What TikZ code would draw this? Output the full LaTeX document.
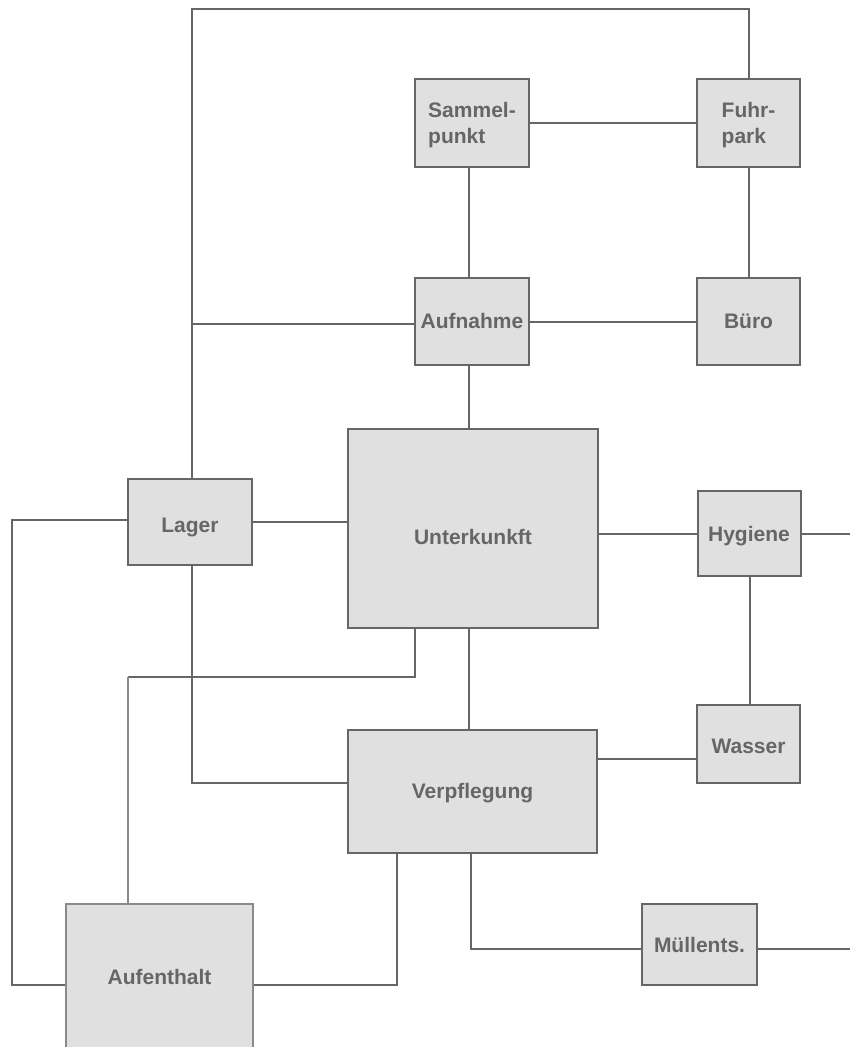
\documentclass[tikz,border=0pt]{standalone}
\usepackage{fontspec}
\setmainfont{Liberation Sans}
\definecolor{boxfill}{HTML}{E0E0E0}
\definecolor{edge}{HTML}{666666}
\definecolor{lightedge}{HTML}{8A8A8A}
\definecolor{txt}{HTML}{666666}
\newcommand{\twolines}[2]{\begin{tabular}[b]{@{}l@{}}#1\\#2\end{tabular}}
\begin{document}
\begin{tikzpicture}[x=1pt,y=-1pt,
  box/.style={draw=edge,line width=2pt,fill=boxfill,text=txt,inner sep=0pt,
    font=\fontsize{21}{26}\selectfont\bfseries,text depth=0pt},
  lightbox/.style={box,draw=lightedge,line width=1.3pt},
  wire/.style={draw=edge,line width=2pt},
  lightwire/.style={draw=lightedge,line width=1.3pt}]
\useasboundingbox (0,0) rectangle (850,1047);
\clip (0,0) rectangle (850,1047);
% nodes
\node[box,minimum width=114pt,minimum height=88pt,text height=41pt] (samm) at (472,122.5) {\twolines{Sammel-}{punkt}};
\node[box,minimum width=103pt,minimum height=88pt,text height=41pt] (fuhr) at (748.5,122.5) {\twolines{Fuhr-}{park}};
\node[box,minimum width=114pt,minimum height=87pt,text height=13pt] (aufn) at (472,321.5) {Aufnahme};
\node[box,minimum width=103pt,minimum height=87pt,text height=13pt] (buro) at (748.5,321.5) {Büro};
\node[box,minimum width=250pt,minimum height=199pt,text height=31pt] (unter) at (473,528.5) {Unterkunkft};
\node[box,minimum width=124pt,minimum height=86pt,text height=20pt] (lager) at (190,522) {Lager};
\node[box,minimum width=103pt,minimum height=85pt,text height=15pt] (hyg) at (749,533.5) {Hygiene};
\node[box,minimum width=103pt,minimum height=78pt,text height=18pt] (wass) at (748.5,744) {Wasser};
\node[box,minimum width=249pt,minimum height=123pt,text height=13pt] (verp) at (472.5,791.5) {Verpflegung};
\node[box,minimum width=115pt,minimum height=81pt,text height=15pt] (mull) at (699.5,944.5) {Müllents.};
\node[lightbox,minimum width=187pt,minimum height=162pt,text height=0pt,text depth=2pt] (aufe) at (159.5,985) {Aufenthalt};
% bend points
\coordinate (cx) at (469,0);
\coordinate (rx) at (749.5,0);
\coordinate (t1) at (192,9);
\coordinate (t2) at (749,9);
\coordinate (l1) at (192,324);
\coordinate (ll) at (12,520);
\coordinate (ll2) at (12,985);
\coordinate (u1) at (415,628);
\coordinate (u2) at (415,677);
\coordinate (u3) at (128,677);
\coordinate (u4) at (128,904);
\coordinate (lb) at (192,783);
\coordinate (vw) at (597,759);
\coordinate (v1) at (397,853);
\coordinate (v2) at (397,985);
\coordinate (v3) at (471,853);
\coordinate (v4) at (471,949);
\coordinate (hr) at (850,534);
\coordinate (mr) at (850,949);
% connectors
\draw[wire] (lager.north -| t1) -- (t1) -- (t2) -- (fuhr.north -| t2);
\draw[wire] (samm.east) -- (fuhr.west);
\draw[wire] (samm.south -| cx) -- (aufn.north -| cx);
\draw[wire] (fuhr.south) -- (buro.north);
\draw[wire] (l1) -- (l1 -| aufn.west);
\draw[wire] (aufn.east) -- (buro.west);
\draw[wire] (aufn.south -| cx) -- (unter.north -| cx);
\draw[wire] (lager.east) -- (lager.east -| unter.west);
\draw[wire] (lager.west |- ll) -- (ll) -- (ll2) -- (ll2 -| aufe.west);
\draw[wire] (unter.east |- hyg.west) -- (hyg.west);
\draw[wire] (hyg.east |- hr) -- (hr);
\draw[wire] (hyg.south -| rx) -- (wass.north -| rx);
\draw[wire] (u1) -- (u2) -- (u3);
\draw[lightwire] (u3) -- (u4);
\draw[wire] (unter.south -| cx) -- (verp.north -| cx);
\draw[wire] (lager.south -| lb) -- (lb) -- (lb -| verp.west);
\draw[wire] (vw) -- (vw -| wass.west);
\draw[wire] (v1) -- (v2) -- (v2 -| aufe.east);
\draw[wire] (v3) -- (v4) -- (v4 -| mull.west);
\draw[wire] (mull.east |- mr) -- (mr);
\end{tikzpicture}
\end{document}
